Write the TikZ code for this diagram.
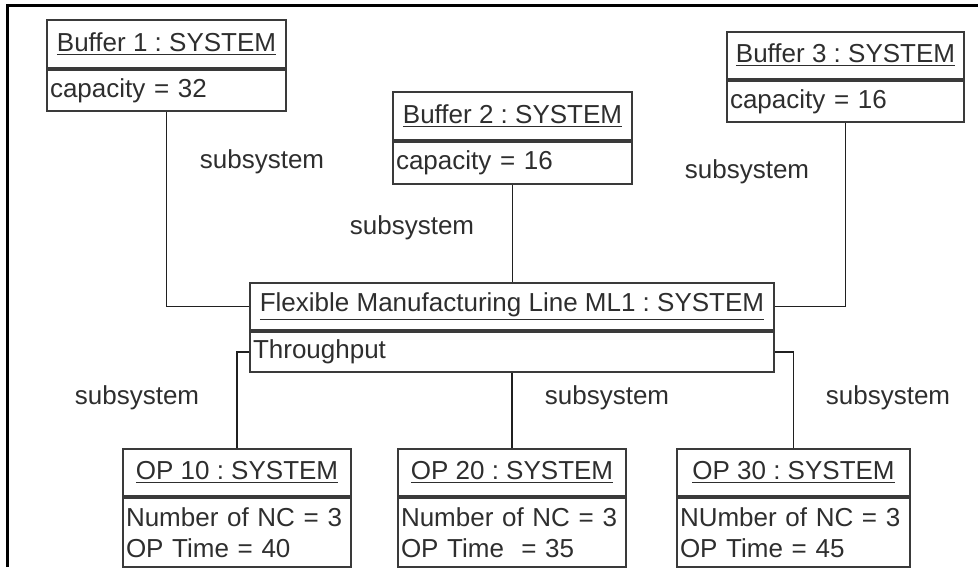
\documentclass[tikz,border=0pt]{standalone}
\usepackage{fontspec}
\setmainfont{Liberation Sans}
\usepackage{tikz}
\usetikzlibrary{positioning}
\definecolor{BoxLine}{HTML}{3A3A3A}
\definecolor{LinkLine}{HTML}{202020}
\definecolor{TextGray}{HTML}{2E2E2E}
\frenchspacing

\begin{document}
\begin{tikzpicture}[x=0.5pt,y=-0.5pt,
  every node/.style={font=\fontsize{13}{15.5}\selectfont, text=TextGray},
  objtitle/.style={draw=BoxLine, line width=1pt, inner sep=0pt, anchor=north west},
  objattr/.style={draw=BoxLine, line width=1pt, inner xsep=1.5pt, inner ysep=0pt, align=left},
  link/.style={LinkLine, line width=0.9pt}]
  \useasboundingbox (0,0) rectangle (978,567);
  \draw[line width=1.5pt] (7,567) -- (7,6) -- (978,6);
  % buffers
  \node[objtitle, minimum width=119.5pt, minimum height=24pt] (b1title) at (46,19) {\underline{Buffer 1 : SYSTEM}};
  \node[objattr, below=0pt of b1title, text width=116.5pt, minimum height=20.5pt] (b1attr) {capacity = 32};
  \node[objtitle, minimum width=119.5pt, minimum height=24pt] (b2title) at (392,91) {\underline{Buffer 2 : SYSTEM}};
  \node[objattr, below=0pt of b2title, text width=116.5pt, minimum height=21pt] (b2attr) {capacity = 16};
  \node[objtitle, minimum width=118.5pt, minimum height=23.5pt] (b3title) at (726,31) {\underline{Buffer 3 : SYSTEM}};
  \node[objattr, below=0pt of b3title, text width=115.5pt, minimum height=20.5pt] (b3attr) {capacity = 16};
  % line
  \node[objtitle, minimum width=262pt, minimum height=23.5pt] (fmltitle) at (249,282) {\underline{Flexible Manufacturing Line ML1 : SYSTEM}};
  \node[objattr, below=0pt of fmltitle, text width=259pt, minimum height=20pt] (fmlattr) {Throughput};
  % operations
  \node[objtitle, minimum width=114pt, minimum height=23.5pt] (op10title) at (122,448) {\underline{OP 10 : SYSTEM}};
  \node[objattr, below=0pt of op10title, text width=111pt, minimum height=34.5pt] (op10attr) {Number of NC = 3\\OP Time = 40};
  \node[objtitle, minimum width=114pt, minimum height=23.5pt] (op20title) at (397,448) {\underline{OP 20 : SYSTEM}};
  \node[objattr, below=0pt of op20title, text width=111pt, minimum height=34.5pt] (op20attr) {Number of NC = 3\\OP Time\ \ = 35};
  \node[objtitle, minimum width=116.5pt, minimum height=23.5pt] (op30title) at (676,448) {\underline{OP 30 : SYSTEM}};
  \node[objattr, below=0pt of op30title, text width=113.5pt, minimum height=34.5pt] (op30attr) {NUmber of NC = 3\\OP Time = 45};
  % links
  \draw[link] (b1attr.south) |- (fmltitle.west);
  \draw[link] (b2attr.south) -- (b2attr.south |- fmltitle.north);
  \draw[link] (b3attr.south) |- (fmltitle.east);
  \draw[link] (fmlattr.west) -| (op10title.north);
  \draw[link] (op20title.north |- fmlattr.south) -- (op20title.north);
  \draw[link] (fmlattr.east) -| (op30title.north);
  \node (lblb1) at (262,162) {subsystem};
  \node (lblb2) at (412,228) {subsystem};
  \node (lblb3) at (747,172) {subsystem};
  \node (lblop10) at (137,398) {subsystem};
  \node (lblop20) at (607,398) {subsystem};
  \node (lblop30) at (888,398) {subsystem};
\end{tikzpicture}
\end{document}
